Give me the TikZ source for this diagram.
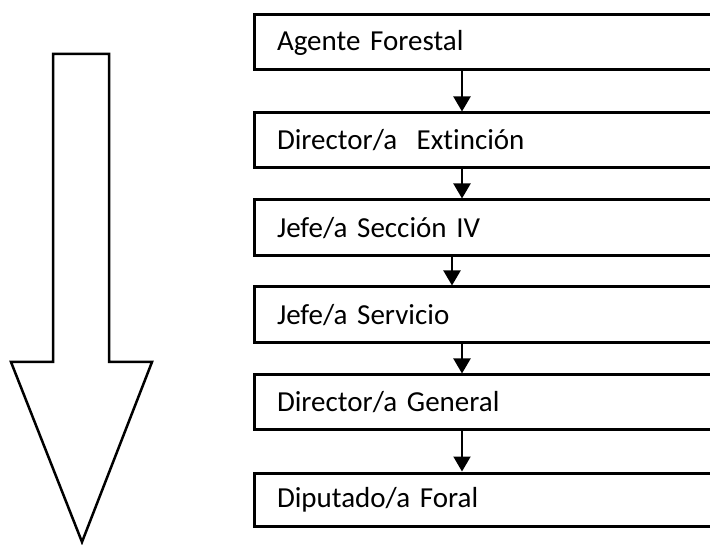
\documentclass[tikz,border=0pt]{standalone}
\usepackage{fontspec}
\setmainfont[RawFeature={-liga;-clig;-dlig;-calt},WordSpace=0.75]{Carlito}
\usetikzlibrary{arrows.meta}

\begin{document}
\begin{tikzpicture}[x=1pt,y=-1pt]
			\tikzstyle{es} = [line width=2pt,-{Triangle[width=17pt,length=15pt]}]
			\tikzstyle{cargo} = [draw,line width=3pt,rectangle,minimum width=466pt,inner xsep=23pt,text width=420pt,align=left,font=\fontsize{29}{34}\selectfont]
			\useasboundingbox (0,0) rectangle (710,545);
			\clip (0,0) rectangle (710,545);
			% flecha grande
			\draw [line width=2.5pt,line join=miter] (53,54) -- (109,54) -- (109,362) -- (152,362) -- (82,542) -- (11,362) -- (53,362) -- cycle;
			% cadena
			\node [cargo,minimum height=55pt] (c1) at (487,42.5) {Agente Forestal};
			\node [cargo,minimum height=55pt] (c2) at (487,140.5) {Director/a\ \ Extinción};
			\node [cargo,minimum height=56pt] (c3) at (487,228) {Jefe/a Sección IV};
			\node [cargo,minimum height=56pt] (c4) at (487,315) {Jefe/a Servicio};
			\node [cargo,minimum height=55pt] (c5) at (487,402.5) {Director/a General};
			\node [cargo,minimum height=53pt] (c6) at (487,499.5) {Diputado/a Foral};
			\draw [es] ([xshift=-25pt]c1.south) -- ([xshift=-25pt]c2.north);
			\draw [es] ([xshift=-25pt]c2.south) -- ([xshift=-25pt]c3.north);
			\draw [es] ([xshift=-35pt]c3.south) -- ([xshift=-35pt]c4.north);
			\draw [es] ([xshift=-25pt]c4.south) -- ([xshift=-25pt]c5.north);
			\draw [es] ([xshift=-25pt]c5.south) -- ([xshift=-25pt]c6.north);
		\end{tikzpicture}
\end{document}
